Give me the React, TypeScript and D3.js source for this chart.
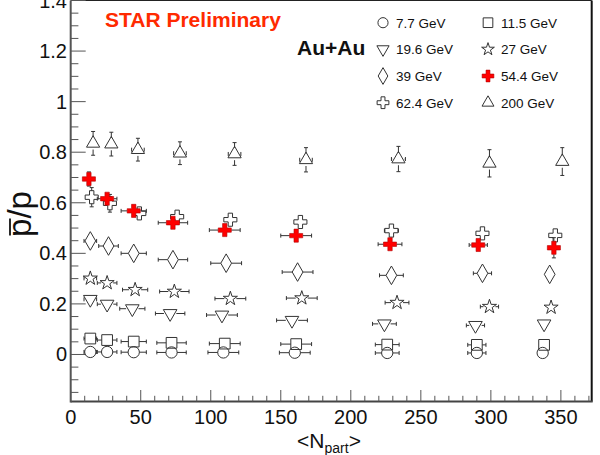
import * as d3 from 'd3';
import React from 'react';

// <Npart> and pbar/p values (low Npart first)
const npart7 = [14, 26, 45, 72, 109, 160, 226, 290, 337];
const ratio7 = [0.01, 0.01, 0.009, 0.008, 0.008, 0.007, 0.006, 0.006, 0.006];
const npart11 = [14, 26, 45, 72, 110, 161, 226, 290, 338];
const ratio11 = [0.063, 0.057, 0.051, 0.046, 0.043, 0.041, 0.039, 0.038, 0.038];
const npart19 = [14, 26, 44, 71, 108, 158, 224, 289, 338];
const ratio19 = [0.218, 0.199, 0.181, 0.162, 0.156, 0.135, 0.121, 0.115, 0.121];
const npart27 = [14, 26, 46, 74, 114, 165, 233, 299, 343];
const ratio27 = [0.301, 0.283, 0.256, 0.249, 0.221, 0.223, 0.205, 0.189, 0.186];
const npart39 = [14, 27, 45, 73, 111, 162, 229, 294, 342];
const ratio39 = [0.449, 0.429, 0.4, 0.375, 0.361, 0.326, 0.313, 0.321, 0.317];
const npart54 = [13, 26, 45, 73, 110, 161, 228, 291, 345];
const ratio54 = [0.694, 0.616, 0.568, 0.521, 0.492, 0.47, 0.436, 0.433, 0.422];
const npart62 = [15, 28, 49, 76, 114, 164, 229, 294, 346];
const ratio62 = [0.622, 0.598, 0.558, 0.545, 0.533, 0.524, 0.49, 0.479, 0.471];
const npart200 = [16, 29, 48, 78, 117, 168, 234, 299, 351];
const ratio200 = [0.835, 0.832, 0.81, 0.796, 0.793, 0.77, 0.773, 0.756, 0.763];

// errors
const xerrLow = [4.5, 7, 9, 10.5, 11, 11, 8.5, 6.5, 1];
const xerrHigh = [4, 4, 4.5, 4.5, 4.5, 4.5, 5, 4, 1];
const yerrSmall = [0.01, 0.01, 0.01, 0.01, 0.01, 0.01, 0.01, 0.01, 0.01];
const yerr54 = [0.028, 0.022, 0.018, 0.018, 0.02, 0.02, 0.022, 0.024, 0.04];
const yerr62 = [0.038, 0.035, 0.018, 0.018, 0.02, 0.02, 0.022, 0.024, 0.024];
const yerr200 = [0.047, 0.047, 0.045, 0.045, 0.045, 0.048, 0.05, 0.054, 0.055];

const xTicks = [0, 50, 100, 150, 200, 250, 300, 350];
const yTicks = [0, 0.2, 0.4, 0.6, 0.8, 1, 1.2, 1.4];

type Kind = 'circle' | 'square' | 'tdown' | 'star' | 'diamond' | 'fcross' | 'ocross' | 'tup';

const series: Array<{ label: string; kind: Kind; n: number[]; r: number[]; ex: number[]; ey: number[] }> = [
  { label: '7.7 GeV', kind: 'circle', n: npart7, r: ratio7, ex: xerrLow, ey: yerrSmall },
  { label: '11.5 GeV', kind: 'square', n: npart11, r: ratio11, ex: xerrLow, ey: yerrSmall },
  { label: '19.6 GeV', kind: 'tdown', n: npart19, r: ratio19, ex: xerrLow, ey: yerrSmall },
  { label: '27 GeV', kind: 'star', n: npart27, r: ratio27, ex: xerrLow, ey: yerrSmall },
  { label: '39 GeV', kind: 'diamond', n: npart39, r: ratio39, ex: xerrLow, ey: yerrSmall },
  { label: '54.4 GeV', kind: 'fcross', n: npart54, r: ratio54, ex: xerrLow, ey: yerr54 },
  { label: '62.4 GeV', kind: 'ocross', n: npart62, r: ratio62, ex: xerrHigh, ey: yerr62 },
  { label: '200 GeV', kind: 'tup', n: npart200, r: ratio200, ex: xerrHigh, ey: yerr200 },
];

const symbolFor: Record<Kind, { type: d3.SymbolType; size: number; rot?: number; half: number }> = {
  circle: { type: d3.symbolCircle, size: 100, half: 5.6 },
  square: { type: d3.symbolSquare, size: 115, half: 5.4 },
  tdown: { type: d3.symbolTriangle, size: 80, rot: 180, half: 6.2 },
  star: { type: d3.symbolStar, size: 62, half: 6 },
  diamond: { type: d3.symbolDiamond, size: 100, half: 5.4 },
  fcross: { type: d3.symbolCross, size: 95, half: 6.5 },
  ocross: { type: d3.symbolCross, size: 95, half: 6.5 },
  tup: { type: d3.symbolTriangle, size: 76, half: 6.2 },
};

function Marker({ kind, cx, cy, scale = 1 }: { kind: Kind; cx: number; cy: number; scale?: number }) {
  const s = symbolFor[kind];
  const d = d3.symbol(s.type, s.size * scale * scale)() || '';
  const filled = kind === 'fcross';
  return (
    <path
      d={d}
      transform={`translate(${cx},${cy})${s.rot ? ` rotate(${s.rot})` : ''}`}
      fill={filled ? '#ff0000' : 'none'}
      stroke={filled ? '#b00000' : '#333'}
      strokeWidth={filled ? 0.6 : 1}
    />
  );
}

export default function App() {
  const width = 600;
  const height = 455;
  const x = d3.scaleLinear().domain([0, 372]).range([70.7, 591.7]);
  const y = d3.scaleLinear().domain([-0.186, 1.4]).range([401.5, 0.5]);
  const [x0, x1] = x.range();
  const [y0, y1] = y.range();

  const xMinor = d3.range(0, 371, 10).filter((v) => v % 50 !== 0);
  const yMinor = d3.range(-0.15, 1.401, 0.05).filter((v) => Math.abs(Math.round(v * 100) % 20) > 0.5);

  const font = '"Liberation Sans", Arial, Helvetica, sans-serif';
  const cap = 2;

  function errorBars(kind: Kind, n: number, r: number, ex: number, ey: number, key: string) {
    const half = symbolFor[kind].half;
    const cx = x(n);
    const cy = y(r);
    const out: React.ReactNode[] = [];
    const xl = x(n - ex);
    const xr = x(n + ex);
    if (cx - xl > half) {
      out.push(<line key={key + 'l'} x1={xl} x2={cx - half} y1={cy} y2={cy} />);
      out.push(<line key={key + 'lc'} x1={xl} x2={xl} y1={cy - cap} y2={cy + cap} />);
      out.push(<line key={key + 'r'} x1={cx + half} x2={xr} y1={cy} y2={cy} />);
      out.push(<line key={key + 'rc'} x1={xr} x2={xr} y1={cy - cap} y2={cy + cap} />);
    }
    const yt = y(r + ey);
    const yb = y(r - ey);
    if (cy - yt > half) {
      out.push(<line key={key + 't'} x1={cx} x2={cx} y1={yt} y2={cy - half} />);
      out.push(<line key={key + 'tc'} x1={cx - cap} x2={cx + cap} y1={yt} y2={yt} />);
      out.push(<line key={key + 'b'} x1={cx} x2={cx} y1={cy + half} y2={yb} />);
      out.push(<line key={key + 'bc'} x1={cx - cap} x2={cx + cap} y1={yb} y2={yb} />);
    }
    return out;
  }

  // draw open cross before the filled red cross so red sits on top
  const drawOrder = [series[7], series[6], series[5], series[4], series[3], series[2], series[1], series[0]];

  const legendCols = [383, 488];
  const legendRows = [22.7, 49.3, 76, 102.7];

  return (
    <svg width={width} height={height} style={{ position: 'absolute', left: 0, top: 0, background: '#fff' }} fontFamily={font}>
      <rect x={0} y={0} width={width} height={height} fill="#fff" />

      {/* frame */}
      <line x1={x0} x2={x1} y1={y1} y2={y1} stroke="#222" strokeWidth={1.2} />
      <line x1={x1} x2={x1} y1={y1} y2={y0} stroke="#111" strokeWidth={2} />
      <line x1={x0} x2={x1 + 1} y1={y0} y2={y0} stroke="#444" strokeWidth={2} />
      <line x1={x0} x2={x0} y1={y1} y2={y0 + 1} stroke="#555" strokeWidth={2} />

      {/* ticks */}
      <g stroke="#555" strokeWidth={1}>
        {xTicks.map((t) => (
          <line key={'xt' + t} x1={x(t)} x2={x(t)} y1={y0} y2={y0 - 11.5} />
        ))}
        {xMinor.map((t) => (
          <line key={'xm' + t} x1={x(t)} x2={x(t)} y1={y0} y2={y0 - 5.7} />
        ))}
        {yTicks.map((t) => (
          <line key={'yt' + t} x1={x0} x2={x0 + 15} y1={y(t)} y2={y(t)} />
        ))}
        {yMinor.map((t) => (
          <line key={'ym' + t.toFixed(2)} x1={x0} x2={x0 + 7.7} y1={y(t)} y2={y(t)} />
        ))}
      </g>
      <g fontSize={20} fill="#111">
        {xTicks.map((t) => (
          <text key={'xl' + t} x={x(t)} y={424} textAnchor="middle">
            {t}
          </text>
        ))}
        {yTicks.map((t) => (
          <text key={'yl' + t} x={67} y={y(t) + 7} textAnchor="end">
            {d3.format('~g')(t)}
          </text>
        ))}
      </g>

      {/* axis titles */}
      <text x={329} y={448} textAnchor="middle" fontSize={21} fill="#111">
        {'<N'}
        <tspan fontSize={14} dy={5}>
          part
        </tspan>
        <tspan dy={-5}>{'>'}</tspan>
      </text>
      <g transform="translate(31,214) rotate(-90)">
        <text x={0} y={0} textAnchor="middle" fontSize={33} fill="#111">
          p/p
        </text>
        <line x1={-21.5} x2={-4.5} y1={-21} y2={-21} stroke="#111" strokeWidth={1.8} />
      </g>

      {/* data */}
      <g stroke="#333" strokeWidth={1}>
        {drawOrder.map((s) => s.n.map((n, i) => errorBars(s.kind, n, s.r[i], s.ex[i], s.ey[i], s.label + i)))}
      </g>
      {drawOrder.map((s) => (
        <g key={s.label}>
          {s.n.map((n, i) => (
            <Marker key={i} kind={s.kind} cx={x(n)} cy={y(s.r[i])} />
          ))}
        </g>
      ))}

      {/* labels */}
      <text x={105} y={27} fontSize={21} fontWeight="bold" fill="#ff2a00">
        STAR Preliminary
      </text>
      <text x={297} y={55} fontSize={21} fontWeight="bold" fill="#111">
        Au+Au
      </text>

      {/* legend */}
      {series.map((s, i) => {
        const cx = legendCols[i % 2];
        const cy = legendRows[Math.floor(i / 2)];
        return (
          <g key={'lg' + s.label}>
            <Marker kind={s.kind} cx={cx} cy={cy} scale={0.9} />
            <text x={cx + 13} y={cy + 4.8} fontSize={13.5} fill="#111">
              {s.label}
            </text>
          </g>
        );
      })}
    </svg>
  );
}
